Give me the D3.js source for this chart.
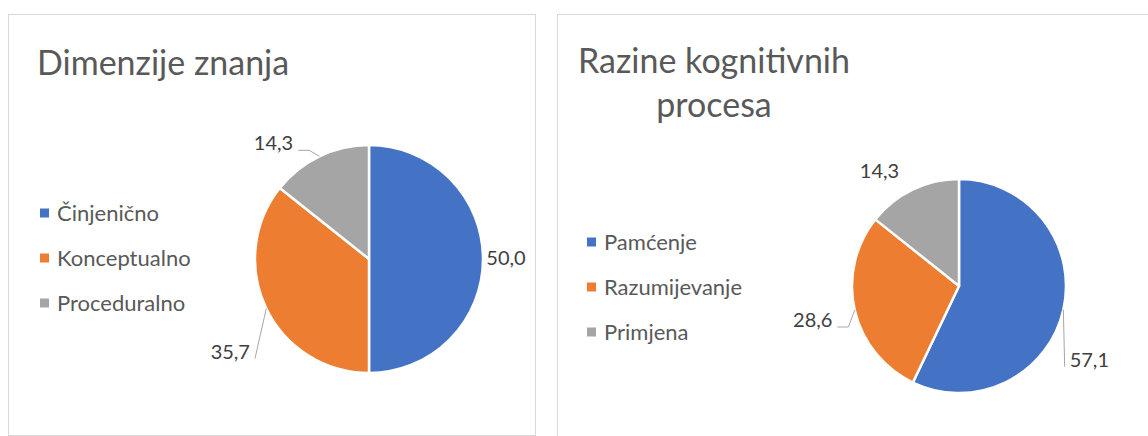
<!DOCTYPE html>
<html>
<head>
<meta charset="utf-8">
<script src="https://cdn.jsdelivr.net/npm/d3@7"></script>
<style>
  body { margin: 0; background: #fff; }
  text { font-family: Lato, "Open Sans", sans-serif; }
</style>
</head>
<body>
<div id="my_dataviz"></div>
<script>
// data
var knowledgeCategories = ["Činjenično", "Konceptualno", "Proceduralno"]
var knowledgeValues = [50.0, 35.7, 14.3]
var cognitiveCategories = ["Pamćenje", "Razumijevanje", "Primjena"]
var cognitiveValues = [57.1, 28.6, 14.3]

var colors = ["#4472c4", "#ed7d31", "#a5a5a5"]

var width = 1148
var height = 436

var svg = d3.select("#my_dataviz")
    .append("svg")
    .attr("width", width)
    .attr("height", height)

var fmt = function(v) { return d3.format(".1f")(v).replace(".", ",") }

// one panel per chart; label offsets are relative to the point on the pie edge
var charts = [
    {
        box: [8.5, 14.5, 527, 421],
        title: ["Dimenzije znanja"], titleX: 37, titleY: 75, titleAnchor: "start",
        legendX: 40, legendY: 213, legendGap: 45,
        cx: 369, cy: 259, r: 114,
        categories: knowledgeCategories, values: knowledgeValues,
        labels: [
            { dx: 23, dy: -1, leader: "none" },
            { dx: -36, dy: 43, leader: "straight" },
            { dx: -46, dy: -13, leader: "elbow" }
        ]
    },
    {
        box: [557.5, 14.5, 620, 440],
        title: ["Razine kognitivnih", "procesa"], titleX: 714, titleY: 73, titleAnchor: "middle",
        legendX: 587, legendY: 242, legendGap: 45,
        cx: 959, cy: 286, r: 107,
        categories: cognitiveCategories, values: cognitiveValues,
        labels: [
            { dx: 26, dy: 50, leader: "straight" },
            { dx: -42, dy: 10, leader: "elbow" },
            { dx: -33, dy: -19, leader: "none" }
        ]
    }
]

charts.forEach(function(c) {
    var g = svg.append("g")

    // panel frame
    g.append("rect")
        .attr("x", c.box[0]).attr("y", c.box[1])
        .attr("width", c.box[2]).attr("height", c.box[3])
        .style("fill", "#fff").style("stroke", "#d9d9d9").style("stroke-width", 1)

    // title
    g.selectAll(".title")
        .data(c.title)
        .enter()
        .append("text")
        .attr("x", c.titleX)
        .attr("y", function(d, i) { return c.titleY + i * 44 })
        .attr("text-anchor", c.titleAnchor)
        .style("font-size", "34px")
        .style("fill", "#595959")
        .text(function(d) { return d })

    // legend
    var leg = g.selectAll(".leg")
        .data(c.categories)
        .enter()
        .append("g")
        .attr("transform", function(d, i) { return "translate(" + c.legendX + "," + (c.legendY + i * c.legendGap) + ")" })
    leg.append("rect")
        .attr("x", 0).attr("y", -4.5).attr("width", 9).attr("height", 9)
        .style("fill", function(d, i) { return colors[i] })
    leg.append("text")
        .attr("x", 17).attr("y", 0)
        .attr("dy", "0.35em")
        .style("font-size", "22px")
        .style("fill", "#595959")
        .text(function(d) { return d })

    // pie, Excel style: starts at 12 o'clock, clockwise
    var pie = d3.pie().sort(null)
    var arcs = pie(c.values)
    var arc = d3.arc().innerRadius(0).outerRadius(c.r)

    var pg = g.append("g").attr("transform", "translate(" + c.cx + "," + c.cy + ")")
    pg.selectAll("path")
        .data(arcs)
        .enter()
        .append("path")
        .attr("d", arc)
        .style("fill", function(d, i) { return colors[i] })
        .style("stroke", "#fff")
        .style("stroke-width", 2.5)
        .style("stroke-linejoin", "round")

    // data labels + leader lines
    arcs.forEach(function(a, i) {
        var ang = (a.startAngle + a.endAngle) / 2
        var ex = c.cx + c.r * Math.sin(ang)
        var ey = c.cy - c.r * Math.cos(ang)
        var L = c.labels[i]
        var lx = ex + L.dx
        var ly = ey + L.dy

        var t = g.append("text")
            .attr("x", lx).attr("y", ly)
            .attr("dy", "0.35em")
            .attr("text-anchor", "middle")
            .style("font-size", "20px")
            .style("fill", "#404040")
            .text(fmt(a.data))

        if (L.leader == "none") return
        var hw = t.node().getComputedTextLength() / 2
        var side = ex > lx ? 1 : -1
        var sx = lx + side * (hw + 5)
        var sy = ly + 7
        var pts = [[sx, sy]]
        if (L.leader == "elbow") pts.push([sx + side * 11, sy])
        pts.push([ex, ey])
        g.append("path")
            .attr("d", d3.line()(pts))
            .style("fill", "none")
            .style("stroke", "#a6a6a6")
            .style("stroke-width", 1)
    })
})
</script>
</body>
</html>
